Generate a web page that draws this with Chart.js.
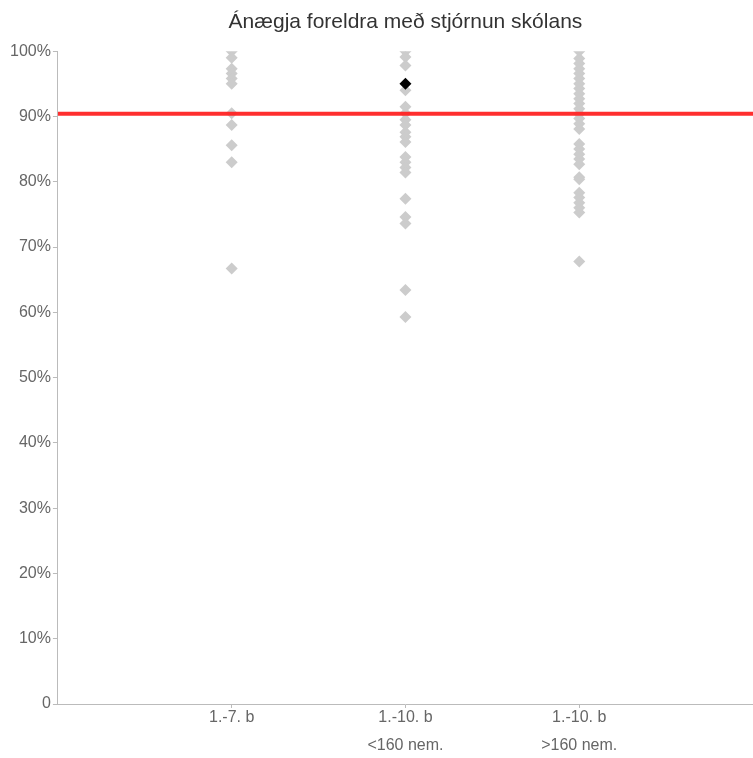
<!doctype html>
<html lang="is">
  <head>
    <meta charset="utf-8">
    <title>Ánægja foreldra</title>
    <script src="https://cdn.jsdelivr.net/npm/chart.js@4.4.0/dist/chart.umd.min.js"></script>
    <style>
      html, body { margin: 0; padding: 0; background: #fff; overflow: hidden; }
      /* a bit wider than the window so the x axis runs to the right edge */
      #wrap { width: 759px; height: 758px; }
    </style>
  </head>
  <body>
    <div id="wrap"><canvas id="myChart"></canvas></div>

<script>
// categories on the x axis (positions 1, 2, 3)
const categories = ['1.-7. b', ['1.-10. b', '<160 nem.'], ['1.-10. b', '>160 nem.']];

// one value per school
const group1 = [100, 99, 97.3, 96.6, 95.8, 95.0, 90.5, 88.7, 85.6, 83.0, 66.7];
const group2 = [100, 99.1, 97.8, 94.0, 91.5, 90.5, 89.5, 88.7, 87.6, 86.9, 86.1, 83.8, 83.0, 82.2, 81.4, 77.4, 74.6, 73.6, 63.4, 59.3];
const group3 = [100, 98.9, 98.1, 97.3, 96.6, 95.8, 95.0, 94.3, 93.5, 92.7, 92.0, 91.2, 90.4, 89.7, 88.9, 88.1, 85.8, 85.0, 84.2, 83.5, 82.7, 80.7, 80.4, 78.3, 77.6, 76.8, 76.0, 75.3, 67.8];

// the highlighted school
const schoolGroup = 2;
const schoolValue = 95.0;

// national average
const average = 90.4;

const yTicks = [0, 10, 20, 30, 40, 50, 60, 70, 80, 90, 100];

const groups = [group1, group2, group3];
const greyPoints = [];
groups.forEach((g, i) => g.forEach(v => greyPoints.push({x: i + 1, y: v})));

const data = {
    datasets: [
    {
        type: 'line',
        label: 'Meðaltal',
        data: [{x: 0, y: average}, {x: categories.length + 1, y: average}],
        borderColor: 'rgba(255, 35, 35, 0.95)',
        borderWidth: 4,
        pointRadius: 0,
        order: 1
    },
    {
        type: 'scatter',
        label: 'Skólar',
        data: greyPoints,
        pointStyle: 'rectRot',
        pointRadius: 6,
        backgroundColor: '#cccccc',
        borderWidth: 0,
        order: 2
    },
    {
        type: 'scatter',
        label: 'Skólinn',
        data: [{x: schoolGroup, y: schoolValue}],
        pointStyle: 'rectRot',
        pointRadius: 6,
        backgroundColor: '#000',
        borderColor: '#000',
        borderWidth: 0,
        order: 0
    }]
};

const tickFont = {family: 'Liberation Sans, Arial, sans-serif', size: 16};

const config = {
    data: data,
    options: {
        responsive: true,
        maintainAspectRatio: false,
        animation: false,
        layout: {
            padding: {left: 8, right: 0, top: 0, bottom: 2}
        },
        scales: {
            x: {
                type: 'linear',
                min: 0,
                max: categories.length + 1,
                afterBuildTicks: scale => {
                    scale.ticks = categories.map((c, i) => ({value: i + 1}));
                },
                ticks: {
                    color: '#666',
                    font: {...tickFont, lineHeight: 1.75},
                    padding: -4,
                    maxRotation: 0,
                    callback: value => categories[value - 1]
                },
                grid: {drawOnChartArea: false, color: '#bbb', tickLength: 4},
                border: {color: '#bbb'}
            },
            y: {
                min: 0,
                max: 100,
                afterBuildTicks: scale => {
                    scale.ticks = yTicks.map(v => ({value: v}));
                },
                ticks: {
                    color: '#666',
                    font: tickFont,
                    padding: 2,
                    callback: value => value === 0 ? '0' : value + '%'
                },
                grid: {drawOnChartArea: false, color: '#bbb', tickLength: 5},
                border: {color: '#bbb'}
            }
        },
        plugins: {
            legend: {display: false},
            tooltip: {enabled: false},
            title: {
                display: true,
                fullSize: false,
                text: 'Ánægja foreldra með stjórnun skólans',
                color: '#333',
                font: {family: 'Liberation Sans, Arial, sans-serif', size: 21, weight: 'normal'},
                padding: {top: 10, bottom: 16}
            }
        }
    }
};
</script>

<script>
  const myChart = new Chart(document.getElementById('myChart'), config);
</script>
  </body>
</html>
